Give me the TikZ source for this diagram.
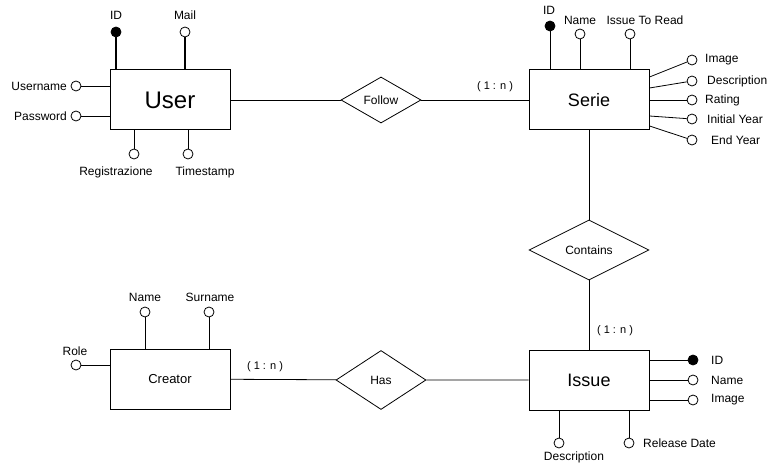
\documentclass[tikz,border=0pt]{standalone}
\usepackage{fontspec}
\setmainfont{Liberation Sans}
\usetikzlibrary{shapes.geometric, calc}

\tikzset{
  entity/.style={draw, minimum width=120pt, minimum height=60pt, line width=1pt},
  relation/.style={draw, diamond, inner sep=0pt, line width=0.8pt, font=\fontsize{12}{14}\selectfont},
  attr/.style={draw, circle, fill=white, minimum size=10pt, inner sep=0pt, line width=0.8pt},
  keyattr/.style={attr, fill=black},
  attrlabel/.style={font=\fontsize{12}{14}\selectfont, inner sep=0pt},
  card/.style={font=\fontsize{11}{13}\selectfont, inner sep=0pt},
  link/.style={line width=0.8pt},
}

\begin{document}
\begin{tikzpicture}[x=1pt, y=-1pt]
    \useasboundingbox (0,0) rectangle (779,468);
    % Entities
    \node[entity, font=\fontsize{24}{28}\selectfont] (user) at (170,100) {User};
    \node[entity, font=\fontsize{18}{22}\selectfont] (serie) at (589,100) {Serie};
    \node[entity, font=\fontsize{18}{22}\selectfont] (issue) at (589,380) {Issue};
    \node[entity, font=\fontsize{13}{16}\selectfont] (creator) at (170,379) {Creator};
    % Relations
    \node[relation, minimum width=80pt, minimum height=46pt] (follow) at (381,100) {Follow};
    \node[relation, minimum width=120pt, minimum height=60pt] (contains) at (589,250) {Contains};
    \node[relation, minimum width=90pt, minimum height=59pt] (has) at (381,380) {Has};
    \draw[link] (user) -- (follow) -- (serie);
    \draw[link] (serie) -- (contains) -- (issue);
    \draw[link] (creator) -- (has) -- (issue);
    \node[card] (card1) at (495,87) {( 1 : n )};
    \node[card] (card2) at (615,331) {( 1 : n )};
    \node[card] (card3) at (265,367) {( 1 : n )};

    % User attributes
    \node[keyattr] (uid) at (116,32) {};
    \node[attr] (umail) at (185,32) {};
    \node[attr] (uname) at (76,86) {};
    \node[attr] (upass) at (76,116) {};
    \node[attr] (ureg) at (134,154) {};
    \node[attr] (utime) at (188,154) {};
    \draw[line width=2pt] (uid) -- (uid |- user.north);
    \draw[line width=2pt] (umail) -- (umail |- user.north);
    \draw[link] (uname) -- (uname -| user.west);
    \draw[link] (upass) -- (upass -| user.west);
    \draw[link] (ureg) -- (ureg |- user.south);
    \draw[link] (utime) -- (utime |- user.south);
    \node[attrlabel] at (116,15) {ID};
    \node[attrlabel] at (185,15) {Mail};
    \node[attrlabel, anchor=east] at (67,86) {Username};
    \node[attrlabel, anchor=east] at (67,116) {Password};
    \node[attrlabel] at (116,172) {Registrazione};
    \node[attrlabel] at (205,172) {Timestamp};

    % Serie attributes
    \node[keyattr] (sid) at (550,26) {};
    \node[attr] (sname) at (580,34) {};
    \node[attr] (sread) at (630,34) {};
    \node[attr] (simg) at (692,60) {};
    \node[attr] (sdesc) at (692,81) {};
    \node[attr] (srate) at (692,100) {};
    \node[attr] (sinit) at (692,119) {};
    \node[attr] (send) at (692,140) {};
    \draw[link] (sid) -- (sid |- serie.north);
    \draw[link] (sname) -- (sname |- serie.north);
    \draw[link] (sread) -- (sread |- serie.north);
    \draw[link] ($(serie.east)+(0,-23)$) -- (simg);
    \draw[link] ($(serie.east)+(0,-12)$) -- (sdesc);
    \draw[link] (serie.east) -- (srate);
    \draw[link] ($(serie.east)+(0,16)$) -- (sinit);
    \draw[link] ($(serie.east)+(0,26)$) -- (send);
    \node[attrlabel] at (549,10) {ID};
    \node[attrlabel] at (580,20) {Name};
    \node[attrlabel] at (645,20) {Issue To Read};
    \node[attrlabel, anchor=west] at (705,60) {Image};
    \node[attrlabel, anchor=west] at (707,81) {Description};
    \node[attrlabel, anchor=west] at (705,100) {Rating};
    \node[attrlabel, anchor=west] at (707,119) {Initial Year};
    \node[attrlabel, anchor=west] at (711,140) {End Year};

    % Issue attributes
    \node[keyattr] (iid) at (693,360) {};
    \node[attr] (iname) at (693,380) {};
    \node[attr] (iimg) at (693,400) {};
    \node[attr] (idesc) at (559,443) {};
    \node[attr] (idate) at (629,443) {};
    \draw[link] (iid) -- (iid -| issue.east);
    \draw[link] (iname) -- (iname -| issue.east);
    \draw[link] (iimg) -- (iimg -| issue.east);
    \draw[link] (idesc) -- (idesc |- issue.south);
    \draw[link] (idate) -- (idate |- issue.south);
    \node[attrlabel, anchor=west] at (711,360) {ID};
    \node[attrlabel, anchor=west] at (711,380) {Name};
    \node[attrlabel, anchor=west] at (711,400) {Image};
    \node[attrlabel] at (574,457) {Description};
    \node[attrlabel, anchor=west] at (643,443) {Release Date};

    % Creator attributes
    \node[attr] (cname) at (145,312) {};
    \node[attr] (csur) at (209,312) {};
    \node[attr] (crole) at (76,365) {};
    \draw[link] (cname) -- (cname |- creator.north);
    \draw[link] (csur) -- (csur |- creator.north);
    \draw[link] (crole) -- (crole -| creator.west);
    \node[attrlabel] at (145,297) {Name};
    \node[attrlabel] at (210,297) {Surname};
    \node[attrlabel] at (75,351) {Role};
\end{tikzpicture}
\end{document}
